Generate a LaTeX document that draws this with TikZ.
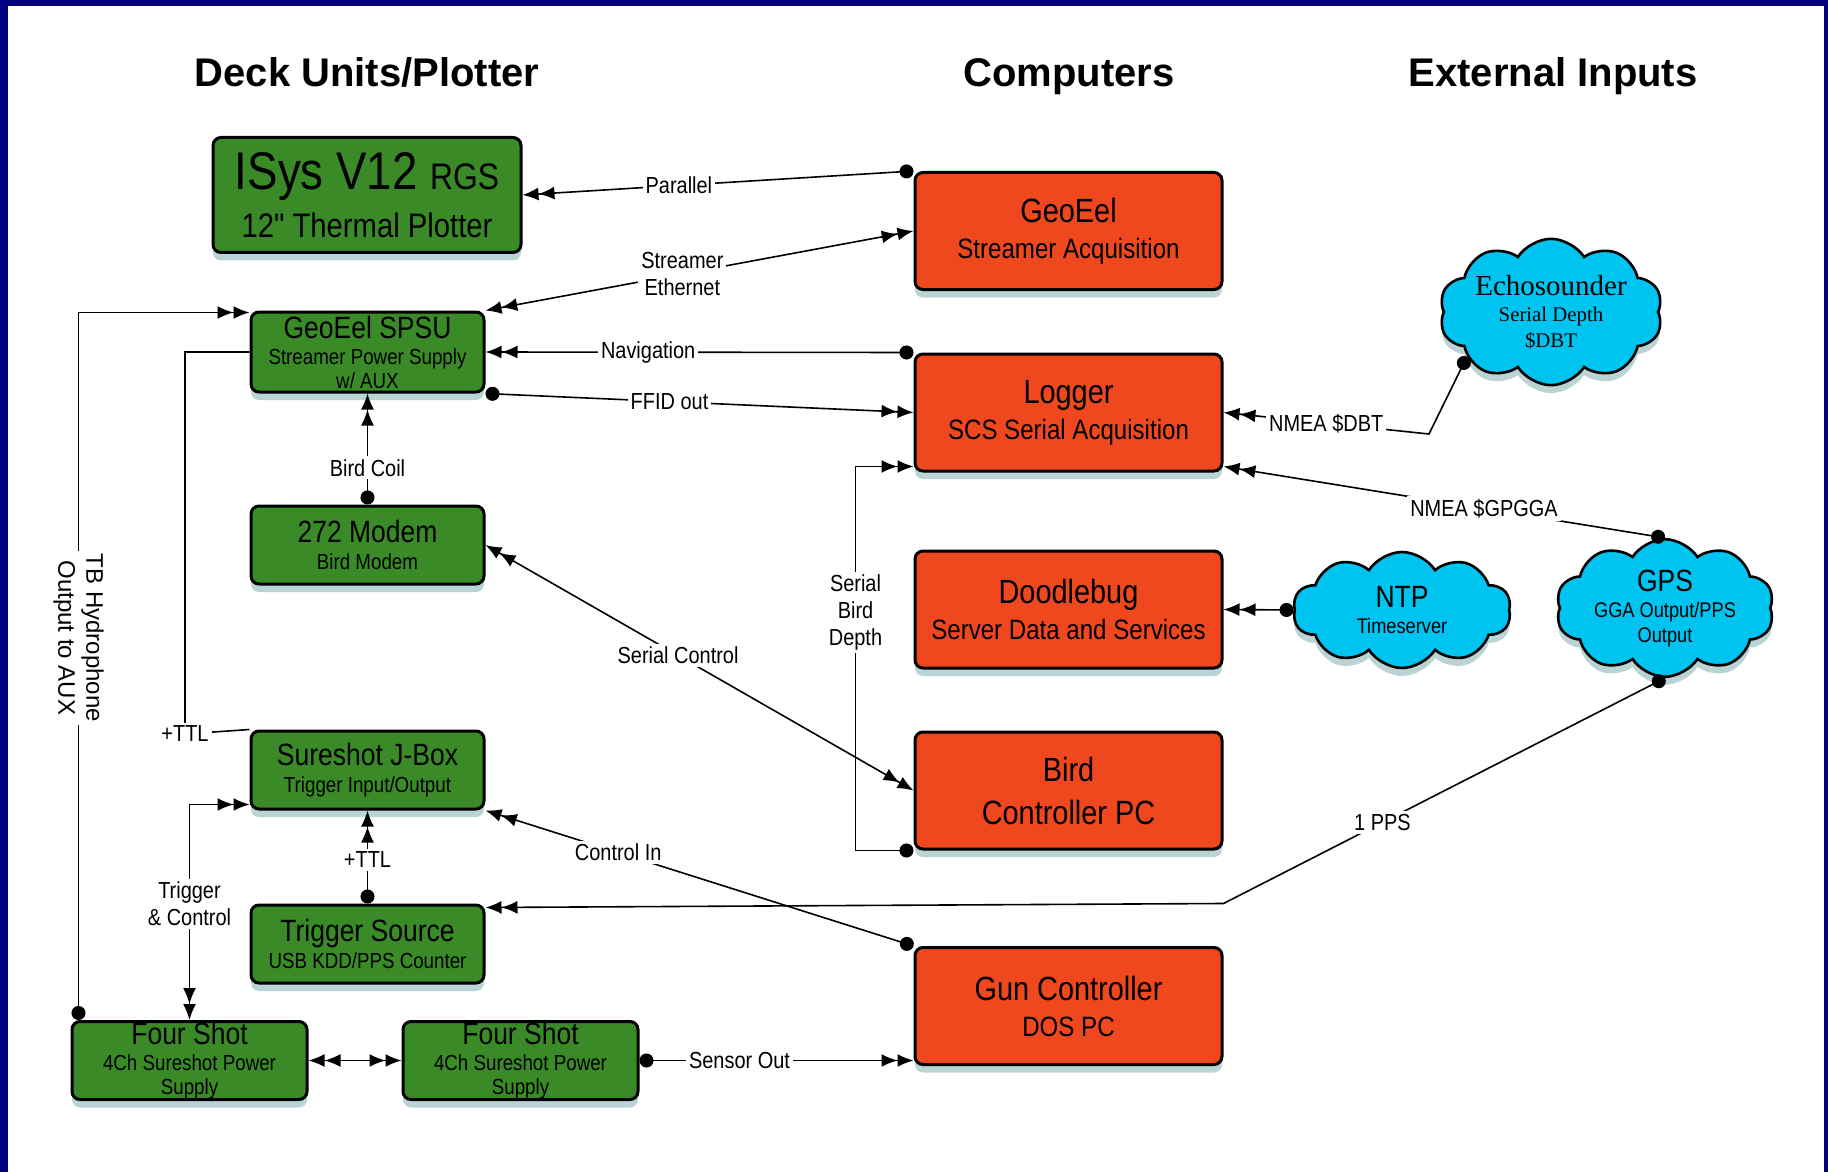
\documentclass[tikz,border=0pt]{standalone}
\usepackage{fontspec}
\setmainfont{Liberation Sans}[FakeStretch=0.86]
\newfontfamily\rawfont{Liberation Sans}[FakeStretch=0.86]
\newfontfamily\titlefont{Liberation Sans}
\newfontfamily\echofont{Liberation Serif}
\usetikzlibrary{arrows.meta,shapes.symbols,shadows}

\definecolor{frameblue}{RGB}{0,0,128}
\definecolor{deckgreen}{RGB}{58,138,40}
\definecolor{pcred}{RGB}{240,72,30}
\definecolor{inputcyan}{RGB}{0,196,240}
\definecolor{shadowteal}{RGB}{130,175,180}

\newcommand\boxhead[1]{{\fontsize{15.4}{17}\selectfont #1}}
\newcommand\pchead[1]{{\fontsize{16.8}{19}\selectfont #1}}
\newcommand\cloudhead[1]{{\fontsize{15.4}{17}\selectfont #1}}

\tikzset{
  twin/.tip={Latex[length=8pt,width=6.5pt] Latex[length=8pt,width=6.5pt]},
  plug/.tip={Circle[length=7pt]},
  unit/.style={draw=black, line width=1.5pt, rounded corners=4pt, align=center, inner sep=0pt,
    drop shadow={shadow xshift=0pt, shadow yshift=-4pt, fill=shadowteal, opacity=0.55}},
  deck/.style={unit, fill=deckgreen, minimum width=116.5pt, minimum height=39pt,
    font=\fontsize{10.9}{12}\selectfont},
  pc/.style={unit, fill=pcred, minimum width=153.5pt, minimum height=58.5pt,
    font=\fontsize{14}{18}\selectfont},
  extin/.style={cloud, cloud puffs=10, cloud puff arc=115, aspect=1.85, draw=black, line width=1.3pt,
    fill=inputcyan, minimum width=109pt, minimum height=58pt, inner sep=0pt, align=center,
    font=\fontsize{10.6}{12.5}\selectfont,
    drop shadow={shadow xshift=0pt, shadow yshift=-4pt, fill=shadowteal, opacity=0.55}},
  heading/.style={anchor=base, font=\titlefont\bfseries\fontsize{20}{24}\selectfont},
  lbl/.style={fill=white, inner sep=1.5pt, align=center, font=\fontsize{11.6}{13.5}\selectfont},
  link/.style={line width=0.8pt},
  feed/.style={link, plug-twin},
  into/.style={link, -twin},
  both/.style={link, twin-twin}
}

\begin{document}
\begin{tikzpicture}[x=0.5pt, y=-0.5pt]
  \useasboundingbox (0,0) rectangle (1828,1172);
  \fill[frameblue] (0,0) rectangle (1828,1172);
  \fill[white] (8,6) rectangle (1824,1172);

  % column headings
  \node[heading] (deckhd) at (367,87) {Deck Units/Plotter};
  \node[heading] (pchd) at (1069,87) {Computers};
  \node[heading] (inhd) at (1553,87) {External Inputs};

  % deck units
  \node[deck, minimum width=154pt, minimum height=57.5pt, font=\fontsize{17}{24}\selectfont] (isys) at (367,195)
    {{\fontsize{26.5}{29}\selectfont ISys V12 {\fontsize{18.5}{20}\selectfont RGS}}\\12{\rawfont"} Thermal Plotter};
  \node[deck, minimum height=40pt] (spsu) at (367.5,352) {\boxhead{GeoEel SPSU}\\[1pt]Streamer Power Supply\\w/ AUX};
  \node[deck] (modem) at (367.5,545) {\boxhead{272 Modem}\\[1.5pt]Bird Modem};
  \node[deck] (jbox) at (367.5,770) {\boxhead{Sureshot J-Box}\\[1.5pt]Trigger Input/Output};
  \node[deck] (trig) at (367.5,944) {\boxhead{Trigger Source}\\[1.5pt]USB KDD/PPS Counter};
  \node[deck, minimum width=117.5pt] (fs1) at (189.5,1060.5) {\boxhead{Four Shot}\\[1pt]4Ch Sureshot Power\\Supply};
  \node[deck, minimum width=117.5pt] (fs2) at (520.5,1060.5) {\boxhead{Four Shot}\\[1pt]4Ch Sureshot Power\\Supply};

  % computers
  \node[pc] (geoeel) at (1068.5,231) {\pchead{GeoEel}\\Streamer Acquisition};
  \node[pc] (logger) at (1068.5,412.5) {\pchead{Logger}\\SCS Serial Acquisition};
  \node[pc] (doodle) at (1068.5,609.5) {\pchead{Doodlebug}\\Server Data and Services};
  \node[pc] (birdpc) at (1068.5,790.5) {\pchead{Bird}\\[3.5pt]\pchead{Controller PC}};
  \node[pc] (gun) at (1068.5,1006) {\pchead{Gun Controller}\\DOS PC};

  % external inputs
  \node[extin, font=\echofont\fontsize{10.4}{13}\selectfont] (echo) at (1551,312)
    {{\fontsize{14.5}{16}\selectfont Echosounder}\\Serial Depth\\\$DBT};
  \node[extin] (ntp) at (1402,610) {\cloudhead{NTP}\\[0.5pt]Timeserver};
  \node[extin] (gps) at (1665,608) {\cloudhead{GPS}\\[0.5pt]GGA Output/PPS\\Output};

  % connections
  \draw[feed] (geoeel.north west) -- (isys.east) node[lbl, pos=0.6] {Parallel};
  \draw[both] (spsu.north east) -- (geoeel.west) node[lbl, pos=0.46] {Streamer\\Ethernet};
  \draw[feed] (logger.north west) -- (spsu.east) node[lbl, pos=0.62] {Navigation};
  \draw[feed] (spsu.south east) -- (logger.west) node[lbl, pos=0.43] {FFID out};
  \draw[feed] (modem.north) -- (spsu.south) node[lbl, pos=0.33] {Bird Coil};
  \draw[both] (modem.east) -- (birdpc.west) node[lbl, pos=0.45] {Serial Control};
  \draw[feed] (birdpc.south west) -- ++(-58,0) |- ([yshift=3pt]logger.south west)
    node[lbl, pos=0.31] {Serial\\Bird\\Depth};

  \coordinate (dbtbend) at (1429,434);
  \draw[feed] (echo.208) -- (dbtbend) -- (logger.east) node[lbl, pos=0.5] {NMEA \$DBT};
  \draw[feed] (gps.north) -- ([yshift=3pt]logger.south east) node[lbl, pos=0.41] {NMEA \$GPGGA};
  \draw[feed] (ntp.west) -- (doodle.east);

  \coordinate (ppsbend) at (doodle.east |- trig.north east);
  \draw[feed] (gps.south) -- (ppsbend) node[lbl, pos=0.64] {1 PPS} -- ([yshift=-2pt]trig.north east);
  \draw[feed] (gun.north west) -- (jbox.south east) node[lbl, pos=0.69] {Control In};
  \draw[feed] (trig.north) -- (jbox.south) node[lbl, pos=0.47] {+TTL};
  \draw[both] (fs1.north) |- ([yshift=3pt]jbox.south west) node[lbl, pos=0.27] {Trigger\\\& Control};

  \coordinate (ttlbend) at (185,734);
  \draw[link] (jbox.north west) -- (ttlbend) node[lbl] {+TTL} |- (spsu.west);
  \draw[feed] ([xshift=4pt]fs1.north west) |- ([yshift=-1pt]spsu.north west)
    node[lbl, pos=0.27, rotate=-90, font=\titlefont\fontsize{12}{14}\selectfont] {TB Hydrophone\\Output to AUX};

  \draw[both] (fs1.east) -- (fs2.west);
  \draw[feed] (fs2.east) -- (fs2.east -| gun.west) node[lbl, pos=0.365] {Sensor Out};
\end{tikzpicture}
\end{document}
